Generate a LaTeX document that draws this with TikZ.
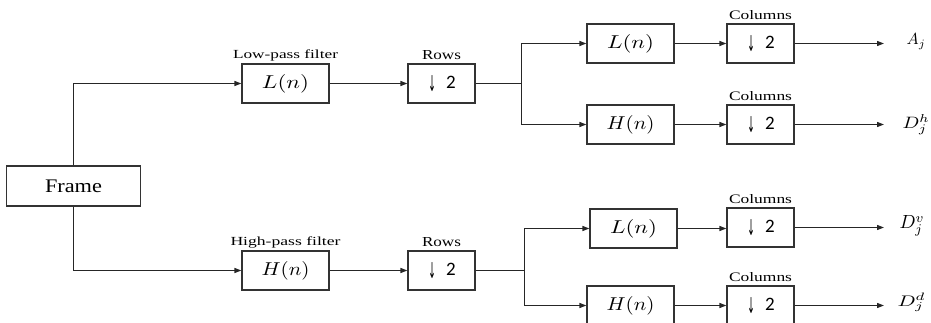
\RequirePackage{fix-cm}
\documentclass[tikz,border=0pt]{standalone}
\usepackage{graphicx}
\usepackage{fontspec}
\setmainfont{Liberation Serif}
\newfontfamily\digitfont{Carlito}
\newfontfamily\arrowfont{DejaVu Sans}
\usetikzlibrary{arrows.meta}

% text set to a given width and height (in pt)
\newcommand{\fit}[3]{\resizebox{#1pt}{#2pt}{#3}}
% down-sampling symbol
\newcommand{\darr}{\raisebox{-3pt}{\resizebox*{7.5pt}{16pt}{\arrowfont ↓}}}
\newcommand{\dtwo}{{\fontsize{19}{22}\selectfont\makebox[10pt]{\darr}\hspace{9pt}{\digitfont 2}}\hspace{13.4pt}}

\begin{document}
\begin{tikzpicture}[x=1pt,y=-1pt,
  line width=1.2pt, draw=black!85,
  blk/.style={draw=black!80, line width=1.2pt, inner sep=0pt, minimum height=39pt},
  filt/.style={blk, minimum width=87pt},
  down/.style={blk, minimum width=67pt},
  toplbl/.style={anchor=base, inner sep=0pt},
  outlbl/.style={anchor=base west, inner sep=0pt},
  arr/.style={-{Triangle[length=7pt,width=5pt]}},
]
\useasboundingbox (0,0) rectangle (931,323);

% input frame
\node[blk, minimum width=134pt, minimum height=40pt] (frame) at (73.5,186) {\raisebox{-1pt}{\fit{57}{12.6}{Frame}}};

% first stage: row filtering
\node[filt] (lp) at (285.5,83.5) {\fit{47}{14}{$L(n)$}};
\node[filt] (hp) at (285.5,270.5) {\fit{48}{14}{$H(n)$}};
\node[toplbl] (lpl) at ([yshift=5pt]lp.north) {\fit{105}{8.7}{Low-pass filter}};
\node[toplbl] (hpl) at ([yshift=5pt]hp.north) {\fit{110}{8.7}{High-pass filter}};

\node[down] (rT) at (441.5,83.5) {\dtwo};
\node[down] (rB) at (441.5,270.5) {\dtwo};
\node[toplbl] (rTl) at ([yshift=4pt]rT.north) {\fit{39}{9}{Rows}};
\node[toplbl] (rBl) at ([yshift=4pt]rB.north) {\fit{39}{9}{Rows}};

% second stage: column filtering
\node[filt] (LT) at (630.5,43.5) {\fit{47}{14}{$L(n)$}};
\node[filt] (HT) at (630.5,124.5) {\fit{48}{14}{$H(n)$}};
\node[filt] (LB) at (633.5,228.5) {\fit{47}{14}{$L(n)$}};
\node[filt] (HB) at (630.5,305.5) {\fit{48}{14}{$H(n)$}};

\node[down] (c1) at (760.5,43.5) {\dtwo};
\node[down] (c2) at (760.5,124.5) {\dtwo};
\node[down] (c3) at (760.5,227.5) {\dtwo};
\node[down] (c4) at (760.5,305.5) {\dtwo};
\foreach \c in {c1,c2,c3,c4}
  \node[toplbl] (\c l) at ([yshift=3.5pt]\c.north) {\fit{63}{9}{Columns}};

% sub-band outputs
\coordinate (o1) at (884,43.5);
\coordinate (o2) at (884,124.5);
\coordinate (o3) at (884,227.5);
\coordinate (o4) at (884,305.5);
\node[outlbl] (A)  at (906,45)    {\fit{19}{11}{$A_j$}};
\node[outlbl] (Dh) at (902,128.5) {\fit{27}{14}{$D_j^h$}};
\node[outlbl] (Dv) at (899,229)   {\fit{25}{13}{$D_j^v$}};
\node[outlbl] (Dd) at (897,306)   {\fit{28}{13}{$D_j^d$}};

% connectors
\draw[arr] (frame.north) |- (lp.west);
\draw[arr] (frame.south) |- (hp.west);
\draw[arr] (lp) -- (rT);
\draw[arr] (hp) -- (rB);

\draw (rT.east) -- ++(45.5,0) coordinate (jT);
\draw[arr] (jT) |- (LT.west);
\draw[arr] (jT) |- (HT.west);
\draw (rB.east) -- ++(48.5,0) coordinate (jB);
\draw[arr] (jB) |- (LB.west);
\draw[arr] (jB) |- (HB.west);

\draw[arr] (LT.east) -- (LT.east -| c1.west);
\draw[arr] (HT.east) -- (HT.east -| c2.west);
\draw[arr] (LB.east) -- (LB.east -| c3.west);
\draw[arr] (HB.east) -- (HB.east -| c4.west);

\draw[arr] (c1.east) -- (o1);
\draw[arr] (c2.east) -- (o2);
\draw[arr] (c3.east) -- (o3);
\draw[arr] (c4.east) -- (o4);
\end{tikzpicture}
\end{document}
